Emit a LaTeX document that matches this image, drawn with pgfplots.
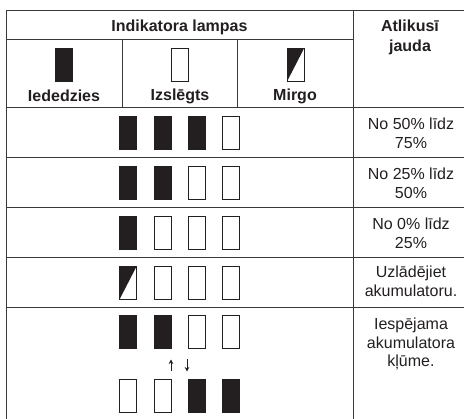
\documentclass[border=0pt]{standalone}
\usepackage{pgfplots}
\pgfplotsset{compat=1.18}
\usepackage{pgfplotstable}
\usetikzlibrary{arrows.meta}
\usepackage{fontspec}
\setmainfont{Liberation Sans}
\definecolor{ink}{HTML}{231F20}
\definecolor{rule}{HTML}{3A3A3A}
\pgfdeclareplotmark{lampon}{%
  \pgfpathrectangle{\pgfpoint{-8.5pt}{-16.5pt}}{\pgfpoint{17pt}{33pt}}%
  \pgfusepathqfillstroke}
\pgfdeclareplotmark{lampoff}{%
  \pgfpathrectangle{\pgfpoint{-8.5pt}{-16.5pt}}{\pgfpoint{17pt}{33pt}}%
  \pgfusepathqstroke}
\pgfdeclareplotmark{lampblink}{%
  \pgfpathmoveto{\pgfpoint{-8.5pt}{16.5pt}}%
  \pgfpathlineto{\pgfpoint{8.5pt}{16.5pt}}%
  \pgfpathlineto{\pgfpoint{-8.5pt}{-16.5pt}}%
  \pgfpathclose\pgfusepathqfill
  \pgfpathrectangle{\pgfpoint{-8.5pt}{-16.5pt}}{\pgfpoint{17pt}{33pt}}%
  \pgfusepathqstroke}
% lamp centres (x, y measured from the top) and state
\pgfplotstableread{
x y state
63.5 65 on
179.5 65 off
295.5 65 blink
128 133 on
162.5 133 on
197 133 on
231 133 off
128 183 on
162.5 183 on
197 183 off
231 183 off
128 233 on
162.5 233 off
197 233 off
231 233 off
128 283 blink
162.5 283 off
197 283 off
231 283 off
128 332 on
162.5 332 on
197 332 off
231 332 off
128 396.5 off
162.5 396.5 off
197 396.5 on
231 396.5 on
}\lamps
\begin{document}
\begin{tikzpicture}
\begin{axis}[name=ax, width=464pt, height=419pt, scale only axis,
  xmin=0, xmax=464, ymin=0, ymax=419, y dir=reverse,
  hide axis, clip=false]
% table rules
\addplot[rule, line width=1pt] coordinates {(6,11) (464,11)};
\addplot[rule, line width=1pt] coordinates {(6,40) (353,40)};
\addplot[rule, line width=1pt] coordinates {(6,108) (464,108)};
\addplot[rule, line width=1pt] coordinates {(6,158) (464,158)};
\addplot[rule, line width=1pt] coordinates {(6,208) (464,208)};
\addplot[rule, line width=1pt] coordinates {(6,258) (464,258)};
\addplot[rule, line width=1pt] coordinates {(6,308) (464,308)};
\addplot[rule, line width=1pt] coordinates {(6,11) (6,419)};
\addplot[rule, line width=1pt] coordinates {(353,11) (353,419)};
\addplot[rule, line width=1pt] coordinates {(122,40) (122,108)};
\addplot[rule, line width=1pt] coordinates {(237,40) (237,108)};
% lamps
\addplot[scatter, only marks, scatter src=explicit symbolic,
  scatter/classes={
    on={mark=lampon, draw=ink, fill=ink},
    off={mark=lampoff, draw=ink, fill=white},
    blink={mark=lampblink, draw=ink, fill=ink}},
  mark options={line width=1pt, draw=ink, fill=ink}]
  table[meta=state]{\lamps};
% arrows between the two alternating states
\addplot[ink, line width=1pt, -{Stealth[length=4.5pt,width=4.5pt]}] coordinates {(171,371.5) (171,359.5)};
\addplot[ink, line width=1pt, -{Stealth[length=4.5pt,width=4.5pt]}] coordinates {(187,359.5) (187,371.5)};
% texts
\tikzset{t/.style={font=\fontsize{16}{18.5}\selectfont, text=ink, inner sep=0pt, align=center}}
\node[t, font=\fontsize{16}{18.5}\selectfont\bfseries] at (axis cs:179.5,27) {Indikatora lampas};
\node[t, font=\fontsize{16}{20}\selectfont\bfseries, anchor=north] at (axis cs:410,20) {Atlikusī\\jauda};
\node[t, font=\fontsize{16}{18.5}\selectfont\bfseries] at (axis cs:64,96) {Iededzies};
\node[t, font=\fontsize{16}{18.5}\selectfont\bfseries] at (axis cs:180,96) {Izslēgts};
\node[t, font=\fontsize{16}{18.5}\selectfont\bfseries] at (axis cs:295,96) {Mirgo};
\node[t, anchor=north] at (axis cs:411,118) {No 50\% līdz\\75\%};
\node[t, anchor=north] at (axis cs:411,168) {No 25\% līdz\\50\%};
\node[t, anchor=north] at (axis cs:411,218) {No 0\% līdz\\25\%};
\node[t, anchor=north] at (axis cs:411,266) {Uzlādējiet\\akumulatoru.};
\node[t, anchor=north] at (axis cs:411,318) {Iespējama\\akumulatora\\kļūme.};
\end{axis}
\pgfresetboundingbox
\path[use as bounding box] (ax.south west) rectangle (ax.north east);
\end{tikzpicture}
\end{document}
